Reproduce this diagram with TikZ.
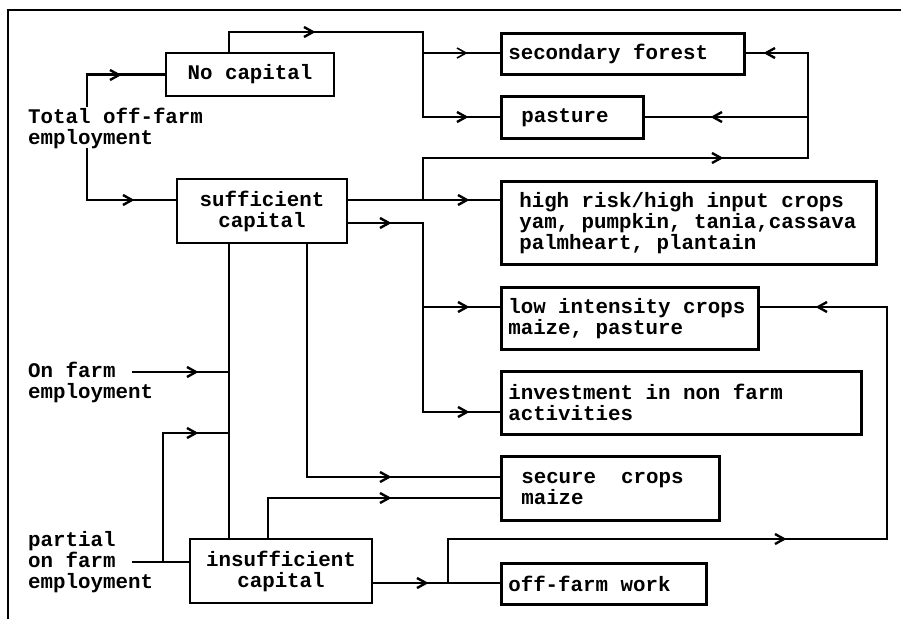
\documentclass[tikz,border=0pt]{standalone}
\usepackage{fontspec}
\setmainfont{Liberation Mono}
\usetikzlibrary{calc}
\newcommand\diagfont{\bfseries\fontsize{20.8}{21}\selectfont}
\newcommand\fixspaces{\spaceskip=0.6em\relax\xspaceskip=0.6em\relax}
\begin{document}
\begin{tikzpicture}[x=1pt,y=-1pt,
  line width=2.4pt, line join=miter,
  txt/.style={font=\diagfont},
  cbox/.style={txt, draw, line width=2.6pt, align=center, inner sep=0pt},
  lbox/.style={txt, draw, line width=2.6pt, align=flush left, anchor=north west, inner xsep=7pt, inner ysep=0pt, execute at begin node=\fixspaces},
  lbl/.style={txt, align=left, anchor=west, inner sep=0pt},
  thinline/.style={line width=1.6pt},
  pics/chr/.style={code={\draw (-5,-5) -- (4,0) -- (-5,5);}},
  pics/chl/.style={code={\draw (5,-5) -- (-4,0) -- (5,5);}}
]
\useasboundingbox (0,0) rectangle (901,619);
% frame
\draw (8,619) -- (8,10) -- (901,10);

% boxes
\node[cbox, minimum width=168pt, minimum height=43pt] (nocap) at (250,74.5) {No capital};
\node[lbox, minimum height=41pt, text width=229pt] (secf) at (500,32) {secondary forest};
\node[lbox, inner xsep=20pt, minimum height=42pt, text width=102pt] (past) at (500,95) {pasture};
\node[cbox, minimum width=170pt, minimum height=64pt] (suff) at (262,211) {sufficient\\capital};
\node[lbox, inner xsep=18pt, minimum height=83pt, text width=339pt] (high) at (500,180) {high risk/high input crops\\yam, pumpkin, tania,cassava\\palmheart, plantain};
\node[lbox, minimum height=62pt, text width=243pt] (low) at (500,286) {low intensity crops\\maize, pasture};
\node[lbox, minimum height=63pt, text width=346pt] (inv) at (500,370) {investment in non farm\\activities};
\node[lbox, inner xsep=20pt, minimum height=64pt, text width=178pt] (sec) at (500,455) {secure\ \ crops\\maize};
\node[cbox, minimum width=182pt, minimum height=64pt] (insuf) at (281,571) {insufficient\\capital};
\node[lbox, minimum height=41pt, text width=191pt] (off) at (500,562) {off-farm work};

% labels
\node[lbl] (tot) at (27,128) {Total off-farm\\employment};
\node[lbl] (onf) at (27,382) {On farm\\employment};
\node[lbl] (part) at (27,562) {partial\\on farm\\employment};

% helper coordinates
\coordinate (c163) at (163,0);
\coordinate (c229) at (229,0);
\coordinate (c268) at (268,0);
\coordinate (c307) at (307,0);
\coordinate (c423) at (423,0);
\coordinate (c448) at (448,0);
\coordinate (c808) at (808,0);
\coordinate (c887) at (887,0);
\coordinate (r32) at (0,32);
\coordinate (r53) at (0,53);
\coordinate (r117) at (0,117);
\coordinate (r158) at (0,158);
\coordinate (r200) at (0,200);
\coordinate (r223) at (0,223);
\coordinate (r307) at (0,307);
\coordinate (r372) at (0,372);
\coordinate (r412) at (0,412);
\coordinate (r433) at (0,433);
\coordinate (r477) at (0,477);
\coordinate (r498) at (0,498);
\coordinate (r539) at (0,539);
\coordinate (r562) at (0,562);
\coordinate (r583) at (0,583);
\coordinate (t1) at (87,107);
\coordinate (t2) at (87,148);
\coordinate (o1) at (132,372);
\coordinate (p1) at (132,562);

% connectors
\draw (t1) |- (nocap.west);
\draw (t2) |- (suff.west |- r200);
\draw (nocap.north -| c229) |- (c423 |- r32) |- (past.west |- r117);
\draw[thinline] (c423 |- r53) -- (secf.west |- r53);
\draw (suff.east |- r200) -- (high.west |- r200);
\draw (c423 |- r200) |- (c808 |- r158) |- (secf.east |- r53);
\draw (c808 |- r117) -- (past.east |- r117);
\draw (suff.east |- r223) -| (c423 |- r412) -- (inv.west |- r412);
\draw (c423 |- r307) -- (low.west |- r307);
\draw (suff.south -| c229) -- (insuf.north -| c229);
\draw (suff.south -| c307) |- (sec.west |- r477);
\draw (insuf.north -| c268) |- (sec.west |- r498);
\draw (o1) -- (c229 |- r372);
\draw (p1) -- (insuf.west |- r562);
\draw (c163 |- r562) |- (c229 |- r433);
\draw (insuf.east |- r583) -- (off.west |- r583);
\draw (c448 |- r583) |- (c887 |- r539) |- (low.east |- r307);

% chevrons
\pic at (115,75) {chr};
\pic at (128,200) {chr};
\pic at (309,32) {chr};
\pic[thinline] at (462,53) {chr};
\pic at (462,117) {chr};
\pic at (463,200) {chr};
\pic at (717,158) {chr};
\pic at (770,53) {chl};
\pic at (717,117) {chl};
\pic at (385,223) {chr};
\pic at (463,412) {chr};
\pic at (463,307) {chr};
\pic at (385,477) {chr};
\pic at (385,498) {chr};
\pic at (192,372) {chr};
\pic at (192,433) {chr};
\pic at (422,583) {chr};
\pic at (780,539) {chr};
\pic at (822,307) {chl};
\end{tikzpicture}
\end{document}
